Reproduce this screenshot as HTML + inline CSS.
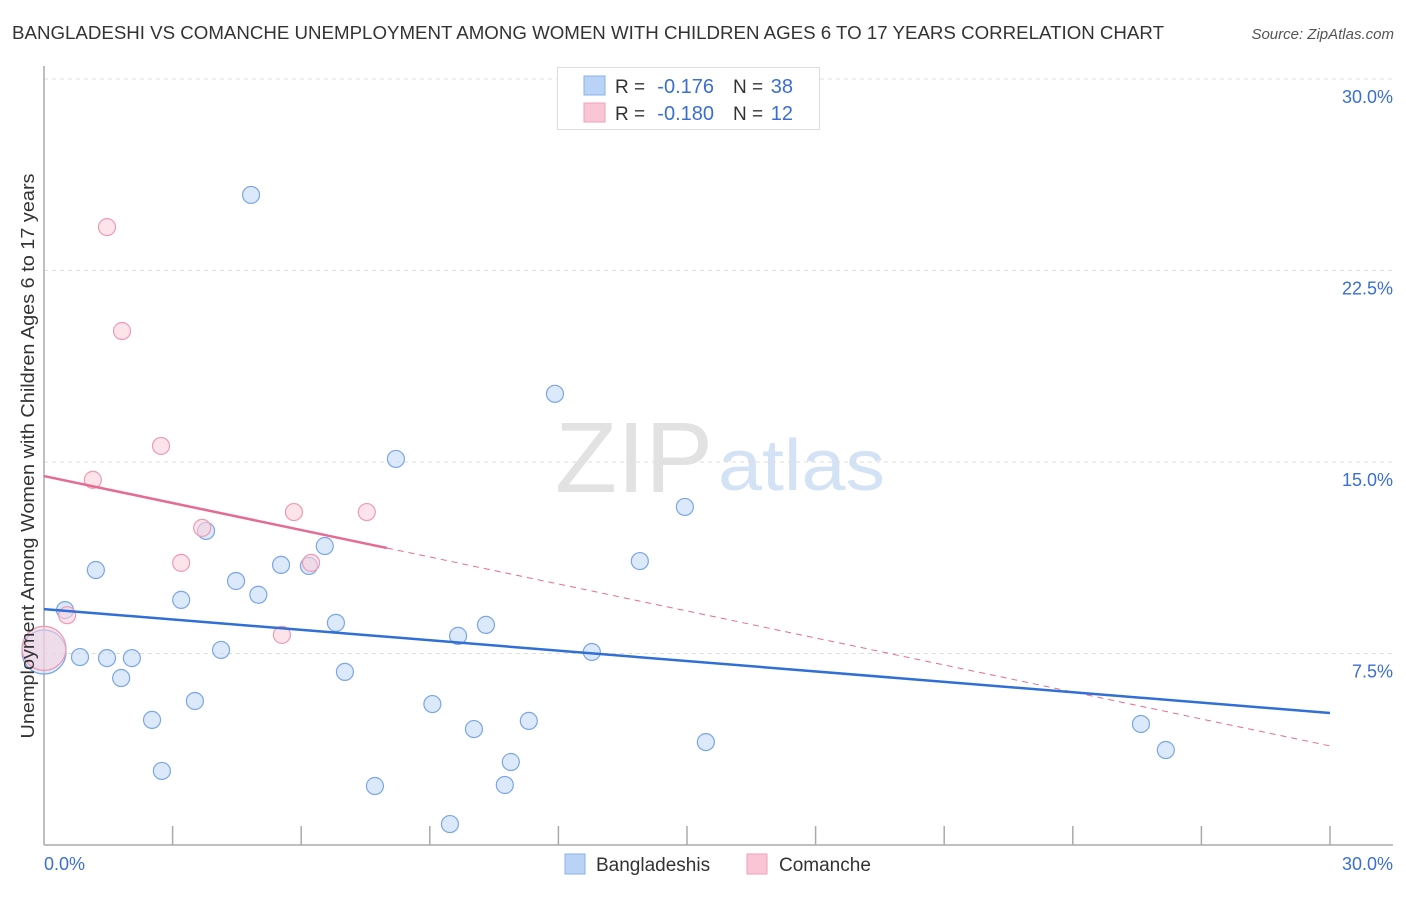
<!DOCTYPE html>
<html><head><meta charset="utf-8"><style>
body{margin:0;background:#fff;font-family:"Liberation Sans",sans-serif}
svg text{font-family:"Liberation Sans",sans-serif}
</style></head><body>
<svg id="chart" width="1406" height="892" xmlns="http://www.w3.org/2000/svg">
<text x="12" y="39" font-size="18" fill="#333" textLength="1152" lengthAdjust="spacingAndGlyphs">BANGLADESHI VS COMANCHE UNEMPLOYMENT AMONG WOMEN WITH CHILDREN AGES 6 TO 17 YEARS CORRELATION CHART</text>
<text x="1394" y="39" font-size="15" fill="#555" font-style="italic" text-anchor="end">Source: ZipAtlas.com</text>
<g><text x="555" y="492" font-size="100" fill="#e2e2e2" font-family="Liberation Serif" textLength="158" lengthAdjust="spacingAndGlyphs">ZIP</text><text x="718" y="490" font-size="72" fill="#d3e2f5" textLength="167" lengthAdjust="spacingAndGlyphs">atlas</text></g>
<g id="grid"></g>
<g id="axes"></g>
<g id="marks"></g>
<text transform="translate(34,456) rotate(-90)" font-size="18" fill="#333" text-anchor="middle" textLength="565" lengthAdjust="spacingAndGlyphs">Unemployment Among Women with Children Ages 6 to 17 years</text>
<g>
<rect x="557.5" y="67.5" width="262" height="62" fill="#fff" stroke="#ddd"/>
<rect x="584" y="76" width="21" height="19" fill="#b8d3f5" stroke="#8ab2e8"/>
<rect x="584" y="103" width="21" height="19" fill="#fac6d6" stroke="#f0a0b8"/>
<text x="615" y="93" font-size="19" fill="#333">R =</text>
<text x="714" y="93" font-size="20" fill="#3a6fd1" text-anchor="end">-0.176</text>
<text x="733" y="93" font-size="19" fill="#333">N =</text>
<text x="793" y="93" font-size="20" fill="#3a6fd1" text-anchor="end">38</text>
<text x="615" y="120" font-size="19" fill="#333">R =</text>
<text x="714" y="120" font-size="20" fill="#3a6fd1" text-anchor="end">-0.180</text>
<text x="733" y="120" font-size="19" fill="#333">N =</text>
<text x="793" y="120" font-size="20" fill="#3a6fd1" text-anchor="end">12</text>
</g>
<g>
<rect x="565" y="854" width="20" height="20" fill="#b8d3f5" stroke="#8ab2e8"/>
<text x="596" y="871" font-size="19" fill="#333">Bangladeshis</text>
<rect x="747" y="854" width="20" height="20" fill="#fac6d6" stroke="#f0a0b8"/>
<text x="779" y="871" font-size="19" fill="#333">Comanche</text>
</g>
</svg>
<script>
const yTicks=[7.5,15,22.5,30];
const yTickLabels=["7.5%","15.0%","22.5%","30.0%"];
const blueX=[0.49,1.21,0.84,1.47,2.05,1.8,2.52,2.75,3.2,3.52,3.78,4.13,4.48,4.83,5.0,5.53,6.18,6.55,6.81,7.02,7.72,8.21,9.06,9.47,9.66,10.03,10.31,10.75,10.89,11.31,11.92,12.78,13.9,14.95,15.44,25.59,26.17,0];
const blueY=[9.2,10.77,7.36,7.32,7.32,6.54,4.9,2.9,9.6,5.64,12.3,7.64,10.34,25.46,9.8,10.97,10.93,11.71,8.7,6.78,2.31,15.12,5.52,0.82,8.19,4.54,8.62,2.35,3.25,4.86,17.67,7.56,11.12,13.24,4.03,4.74,3.72,7.56];
const pinkX=[1.47,1.82,2.73,1.14,3.69,5.83,7.53,3.2,6.23,5.55,0.54,0];
const pinkY=[24.2,20.13,15.63,14.3,12.42,13.04,13.04,11.05,11.05,8.23,9.0,7.7];
const blueTrend=[9.24,5.17];
const pinkTrend=[14.45,3.88];
const pinkSolidEnd=8.0;

const NS="http://www.w3.org/2000/svg";
const X=v=>44+v*(1286/30);
const Y=v=>845-v*(766/30);
function mk(tag,attrs,parent){const e=document.createElementNS(NS,tag);for(const k in attrs)e.setAttribute(k,attrs[k]);document.getElementById(parent).appendChild(e);return e;}

yTicks.forEach((t,i)=>{
  const g=mk('line',{x1:44,x2:1393,y1:Y(t),y2:Y(t),stroke:'#ddd','stroke-dasharray':'4,4'},'grid');
  
  
  const l=mk('text',{x:1393,y:Y(t)+24,'font-size':18,fill:'#3a6fd1','text-anchor':'end'},'grid');
  l.textContent=yTickLabels[i];
  
  
});
const ya=mk('line',{x1:44,x2:44,y1:66,y2:845,stroke:'#aaa','stroke-width':1.5},'axes');


const xa=mk('line',{x1:44,x2:1393,y1:845,y2:845,stroke:'#aaa','stroke-width':1.5},'axes');


for(let k=1;k<=10;k++){
  const t=mk('line',{x1:X(k*3),x2:X(k*3),y1:826,y2:845,stroke:'#aaa','stroke-width':1.5},'axes');
  
  
}
const x0=mk('text',{x:44,y:870,'font-size':18,fill:'#3a6fd1'},'axes');x0.textContent='0.0%';


const x1=mk('text',{x:1393,y:870,'font-size':18,fill:'#3a6fd1','text-anchor':'end'},'axes');x1.textContent='30.0%';



function dot(x,y,fill,stroke,big,name){
  const c=mk('circle',{cx:X(x),cy:Y(y),r:big?22:8.5,fill:fill,'fill-opacity':big?0.55:0.6,stroke:stroke,'stroke-width':1.2},'marks');
  
  
}
blueX.forEach((x,i)=>dot(x,blueY[i],'#c5dbf6','#7aa6e6',i===blueX.length-1,'bangladeshi-point'));
pinkX.forEach((x,i)=>dot(x,pinkY[i],'#fbd0dc','#ee9ab5',i===pinkX.length-1,'comanche-point'));

const pv=x=>pinkTrend[0]+(pinkTrend[1]-pinkTrend[0])*x/30;
const pd=mk('line',{x1:X(pinkSolidEnd),y1:Y(pv(pinkSolidEnd)),x2:X(30),y2:Y(pinkTrend[1]),stroke:'#e56b93','stroke-width':1,'stroke-dasharray':'6,5'},'marks');


const ps=mk('line',{x1:X(0),y1:Y(pinkTrend[0]),x2:X(pinkSolidEnd),y2:Y(pv(pinkSolidEnd)),stroke:'#e56b93','stroke-width':2.5},'marks');


const bt=mk('line',{x1:X(0),y1:Y(blueTrend[0]),x2:X(30),y2:Y(blueTrend[1]),stroke:'#2f6fd6','stroke-width':2.5},'marks');


</script>
</body></html>
